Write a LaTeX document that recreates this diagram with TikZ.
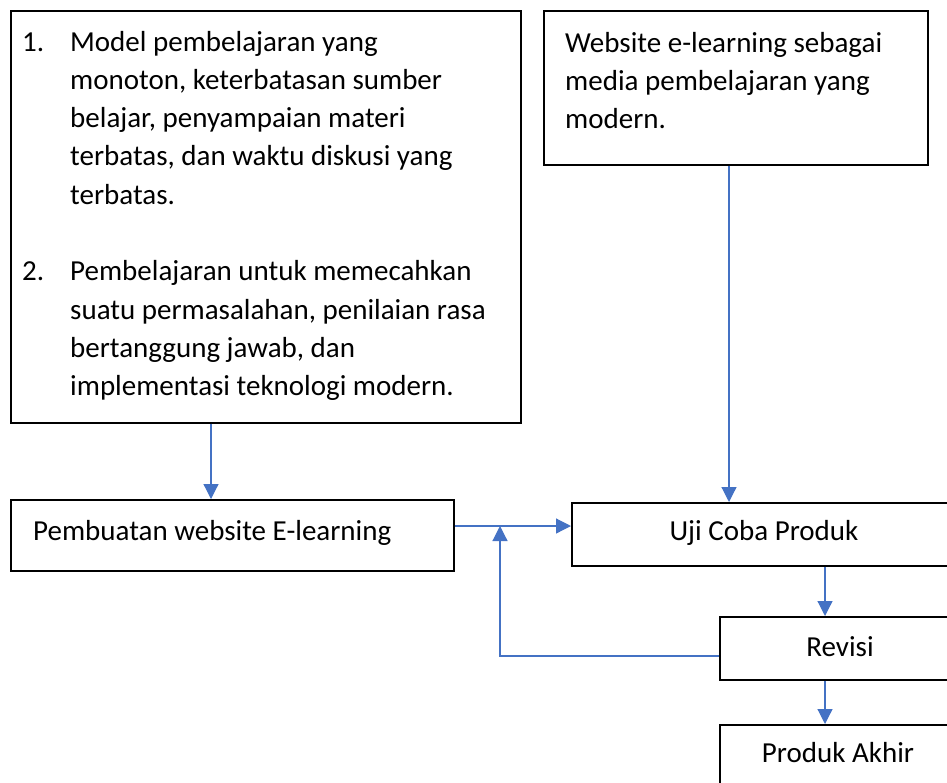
\documentclass[tikz,border=0pt]{standalone}
\usepackage{fontspec}
\setmainfont{Carlito}
\usetikzlibrary{arrows.meta}
\definecolor{conn}{HTML}{4472C4}
\tikzset{
  box/.style={draw=black, line width=1.7pt, rectangle, inner sep=0pt, anchor=north west},
  conn/.style={draw=conn, line width=1.2pt, -{Triangle[length=15pt,width=15pt]}},
  txt/.style={font=\fontsize{29}{38.3}\selectfont, inner sep=0pt},
}
\begin{document}
\begin{tikzpicture}[x=1pt,y=-1pt]
\useasboundingbox (0,0) rectangle (947,782);
\node[box, minimum width=510pt, minimum height=412pt] (A) at (10,10) {};
\node[box, minimum width=384pt, minimum height=154pt] (B) at (543,10) {};
\node[box, minimum width=443pt, minimum height=71pt] (C) at (10,499) {};
\node[box, minimum width=400pt, minimum height=63pt] (D) at (571,502) {};
\node[box, minimum width=250pt, minimum height=63pt] (E) at (719,616) {};
\node[box, minimum width=250pt, minimum height=90pt] (F) at (719,724) {};

\node[txt, anchor=base west] (At) at (22,51) {%
\begin{tabular}[t]{@{}p{48pt}@{}l@{}}
1. & Model pembelajaran yang\\
 & monoton, keterbatasan sumber\\
 & belajar, penyampaian materi\\
 & terbatas, dan waktu diskusi yang\\
 & terbatas.\\
 & \\
2. & Pembelajaran untuk memecahkan\\
 & suatu permasalahan, penilaian rasa\\
 & bertanggung jawab, dan\\
 & implementasi teknologi modern.
\end{tabular}};
\node[txt, anchor=base west] (Bt) at (565,52) {%
\begin{tabular}[t]{@{}l@{}}
Website e-learning sebagai\\
media pembelajaran yang\\
modern.
\end{tabular}};
\node[txt, anchor=base west] (Ct) at (33,540) {Pembuatan website E-learning};
\node[txt, anchor=base] (Dt) at (764,540) {Uji Coba Produk};
\node[txt, anchor=base] (Et) at (840,656) {Revisi};
\node[txt, anchor=base] (Ft) at (838,762) {Produk Akhir};

\coordinate (Ax) at (211,0);
\draw[conn] (A.south -| Ax) -- (C.north -| Ax);
\coordinate (Bx) at (729,0);
\draw[conn] (B.south -| Bx) -- (D.north -| Bx);
\coordinate (mid) at (500,526);
\draw[conn] (C.east |- mid) -- (D.west |- mid);
\coordinate (Dx) at (825,0);
\draw[conn] (D.south -| Dx) -- (E.north -| Dx);
\draw[conn] (E.south -| Dx) -- (F.north -| Dx);
\coordinate (fb) at (500,656);
\draw[conn] (E.west |- fb) -- (fb) -- (mid);
\end{tikzpicture}
\end{document}
